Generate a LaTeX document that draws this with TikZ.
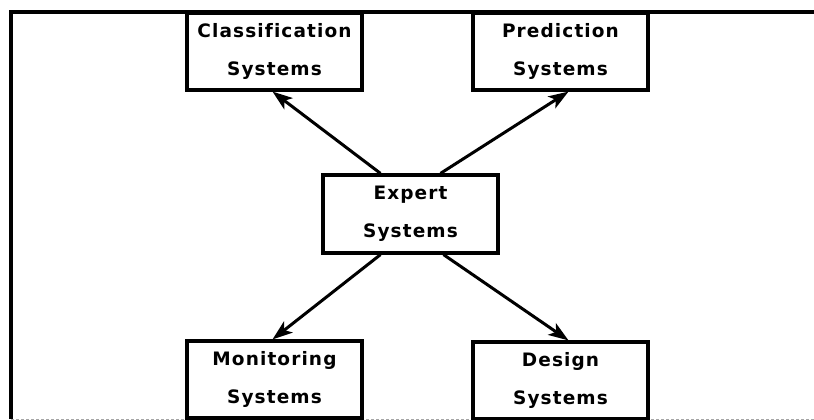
\documentclass[tikz,border=0pt]{standalone}
\usepackage{fontspec}
\newfontfamily\boxfont[LetterSpace=6,Ligatures=NoCommon]{DejaVu Sans}
\usetikzlibrary{arrows.meta}
\begin{document}
\begin{tikzpicture}[x=1pt,y=-1pt,
  sysbox/.style={draw=black, line width=3.2pt, minimum width=175pt, minimum height=77pt,
    inner sep=0pt, align=center, font=\boxfont\bfseries\fontsize{18.5}{38}\selectfont},
  arr/.style={line width=3pt, -{Stealth[length=20pt,width=14pt,inset=5pt]}},
  frameline/.style={line width=3.2pt, black}]
\useasboundingbox (0,0) rectangle (814,420);
% outer frame
\draw[frameline] (11,419) -- (11,12) -- (820,12);
\draw[line width=1pt, black!35, dash pattern=on 3pt off 2pt] (11,419) -- (814,419);
% boxes
\node[sysbox] (cls)  at (274.5,51.5) {Classification\\Systems};
\node[sysbox] (pred) at (560.5,51.5) {Prediction\\Systems};
\node[sysbox, minimum height=78pt] (exp) at (410.5,214) {Expert\\Systems};
\node[sysbox] (mon)  at (274.5,379.5) {Monitoring\\Systems};
\node[sysbox] (des)  at (560.5,380.5) {Design\\Systems};
% connectors
\draw[arr] ([xshift=-30pt]exp.north) -- ([xshift=-2pt]cls.south);
\draw[arr] ([xshift=30pt]exp.north) -- ([xshift=8pt]pred.south);
\draw[arr] ([xshift=-30pt]exp.south) -- ([xshift=-2pt]mon.north);
\draw[arr] ([xshift=33pt]exp.south) -- ([xshift=8pt]des.north);
\end{tikzpicture}
\end{document}
